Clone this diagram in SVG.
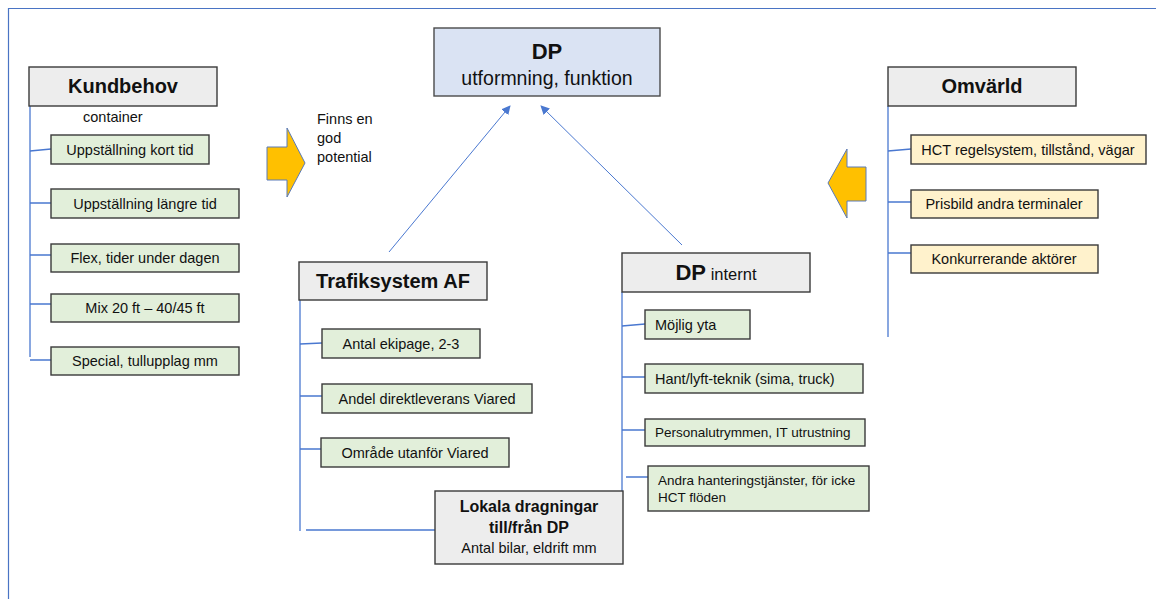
<svg xmlns="http://www.w3.org/2000/svg" width="1156" height="599" viewBox="0 0 1156 599">
<defs>
<style>
text{font-family:"Liberation Sans",Arial,sans-serif;fill:#111;}
.frame{stroke:#4a74c4;stroke-width:1.2;fill:none;}
.conn{stroke:#4a78d0;stroke-width:1.3;fill:none;}
.arr{stroke:#4a78d0;stroke-width:1;fill:none;}
.head{fill:#ededed;stroke:#3a3a3a;stroke-width:1.4;}
.green{fill:#e2efda;stroke:#3a3a3a;stroke-width:1.4;}
.yellow{fill:#fff2cc;stroke:#3a3a3a;stroke-width:1.4;}
.blue{fill:#dae3f3;stroke:#4a4a4a;stroke-width:1.4;}
.big{font-size:20px;font-weight:bold;text-anchor:middle;}
.sm{font-size:14.5px;}
.mid{text-anchor:middle;}
.bigarrow{fill:#ffc000;stroke:#5a7ab8;stroke-width:1;}
</style>
<marker id="ah" viewBox="0 0 10 10" refX="9" refY="5" markerWidth="9" markerHeight="9" markerUnits="userSpaceOnUse" orient="auto">
<path d="M0,0 L10,5 L0,10 z" fill="#4a78d0"/>
</marker>
</defs>
<rect x="0" y="0" width="1156" height="599" fill="#ffffff"/>
<g id="frame">
<path class="frame" d="M8.5,599 V8.5 H1156"/>
</g>
<g id="connectors">
<path class="conn" d="M30,106 V357"/>
<path class="conn" d="M30,151 L51,149 M30,203 H51 M30,255 H51 M30,304 H51 M30,360 H51"/>
<path class="conn" d="M300,300 V531"/>
<path class="conn" d="M300,344 L322,343 M300,396 H322 M300,449 H321 M306,530 H435"/>
<path class="conn" d="M622,292 V491"/>
<path class="conn" d="M622,326 L645,324 M622,377 H645 M622,430 H645 M626,477 H648"/>
<path class="conn" d="M888,106 V337"/>
<path class="conn" d="M888,151 L911,149 M888,202 H911 M888,253 H911"/>
<path class="arr" d="M389,252 L510,106" marker-end="url(#ah)"/>
<path class="arr" d="M682,245 L541,106" marker-end="url(#ah)"/>
</g>
<g id="arrow-right">
<path class="bigarrow" d="M267,147 H287 V128 L305,163 L287,197 V180 H267 Z"/>
</g>
<g id="arrow-left">
<path class="bigarrow" d="M866,167 H847 V149 L828,183 L847,218 V201 H866 Z"/>
</g>
<g id="note-potential">
<text class="sm" x="317" y="124">Finns en</text>
<text class="sm" x="317" y="143">god</text>
<text class="sm" x="317" y="162">potential</text>
</g>
<g id="dp-main">
<rect class="blue" x="434" y="28" width="226" height="68"/>
<text x="547" y="59" font-size="22" font-weight="bold" text-anchor="middle">DP</text>
<text x="547" y="85" font-size="19.5" text-anchor="middle">utformning, funktion</text>
</g>
<g id="kundbehov">
<rect class="head" x="29" y="67" width="188" height="39"/>
<text class="big" x="123" y="93">Kundbehov</text>
<text class="sm" x="83" y="122">container</text>
</g>
<g id="k1"><rect class="green" x="51" y="135" width="158" height="29"/><text class="sm mid" x="130" y="155">Uppställning kort tid</text></g>
<g id="k2"><rect class="green" x="51" y="189" width="188" height="29"/><text class="sm mid" x="145" y="209">Uppställning längre tid</text></g>
<g id="k3"><rect class="green" x="51" y="244" width="188" height="28"/><text class="sm mid" x="145" y="263">Flex, tider under dagen</text></g>
<g id="k4"><rect class="green" x="51" y="294" width="188" height="28"/><text class="sm mid" x="145" y="313">Mix 20 ft – 40/45 ft</text></g>
<g id="k5"><rect class="green" x="51" y="347" width="188" height="28"/><text class="sm mid" x="145" y="366">Special, tullupplag mm</text></g>
<g id="trafiksystem">
<rect class="head" x="299" y="262" width="188" height="38"/>
<text class="big" x="393" y="288">Trafiksystem AF</text>
</g>
<g id="t1"><rect class="green" x="322" y="329" width="158" height="29"/><text class="sm mid" x="401" y="349">Antal ekipage, 2-3</text></g>
<g id="t2"><rect class="green" x="322" y="384" width="210" height="29"/><text class="sm mid" x="427" y="404">Andel direktleverans Viared</text></g>
<g id="t3"><rect class="green" x="321" y="438" width="188" height="29"/><text class="sm mid" x="415" y="458">Område utanför Viared</text></g>
<g id="lokala">
<rect class="head" x="435" y="491" width="188" height="73"/>
<text x="529" y="512" font-size="16" font-weight="bold" text-anchor="middle">Lokala dragningar</text>
<text x="529" y="533" font-size="16" font-weight="bold" text-anchor="middle">till/från DP</text>
<text x="529" y="553" font-size="14.5" text-anchor="middle">Antal bilar, eldrift mm</text>
</g>
<g id="dp-internt">
<rect class="head" x="622" y="253" width="188" height="39"/>
<text x="716" y="280" text-anchor="middle"><tspan font-size="22" font-weight="bold">DP</tspan><tspan font-size="16.5"> internt</tspan></text>
</g>
<g id="d1"><rect class="green" x="645" y="310" width="105" height="29"/><text class="sm" x="655" y="330">Möjlig yta</text></g>
<g id="d2"><rect class="green" x="645" y="364" width="218" height="29"/><text class="sm" x="655" y="384">Hant/lyft-teknik (sima, truck)</text></g>
<g id="d3"><rect class="green" x="645" y="419" width="220" height="27"/><text x="655" y="437" font-size="13.5">Personalutrymmen, IT utrustning</text></g>
<g id="d4"><rect class="green" x="648" y="466" width="221" height="45"/><text x="658" y="485" font-size="13.5">Andra hanteringstjänster, för icke</text><text x="658" y="502" font-size="13.5">HCT flöden</text></g>
<g id="omvarld">
<rect class="head" x="888" y="67" width="188" height="39"/>
<text class="big" x="982" y="93">Omvärld</text>
</g>
<g id="o1"><rect class="yellow" x="911" y="135" width="235" height="29"/><text class="sm mid" x="1028" y="155">HCT regelsystem, tillstånd, vägar</text></g>
<g id="o2"><rect class="yellow" x="911" y="190" width="187" height="28"/><text class="sm mid" x="1004" y="209">Prisbild andra terminaler</text></g>
<g id="o3"><rect class="yellow" x="911" y="245" width="187" height="28"/><text class="sm mid" x="1004" y="264">Konkurrerande aktörer</text></g>
</svg>
